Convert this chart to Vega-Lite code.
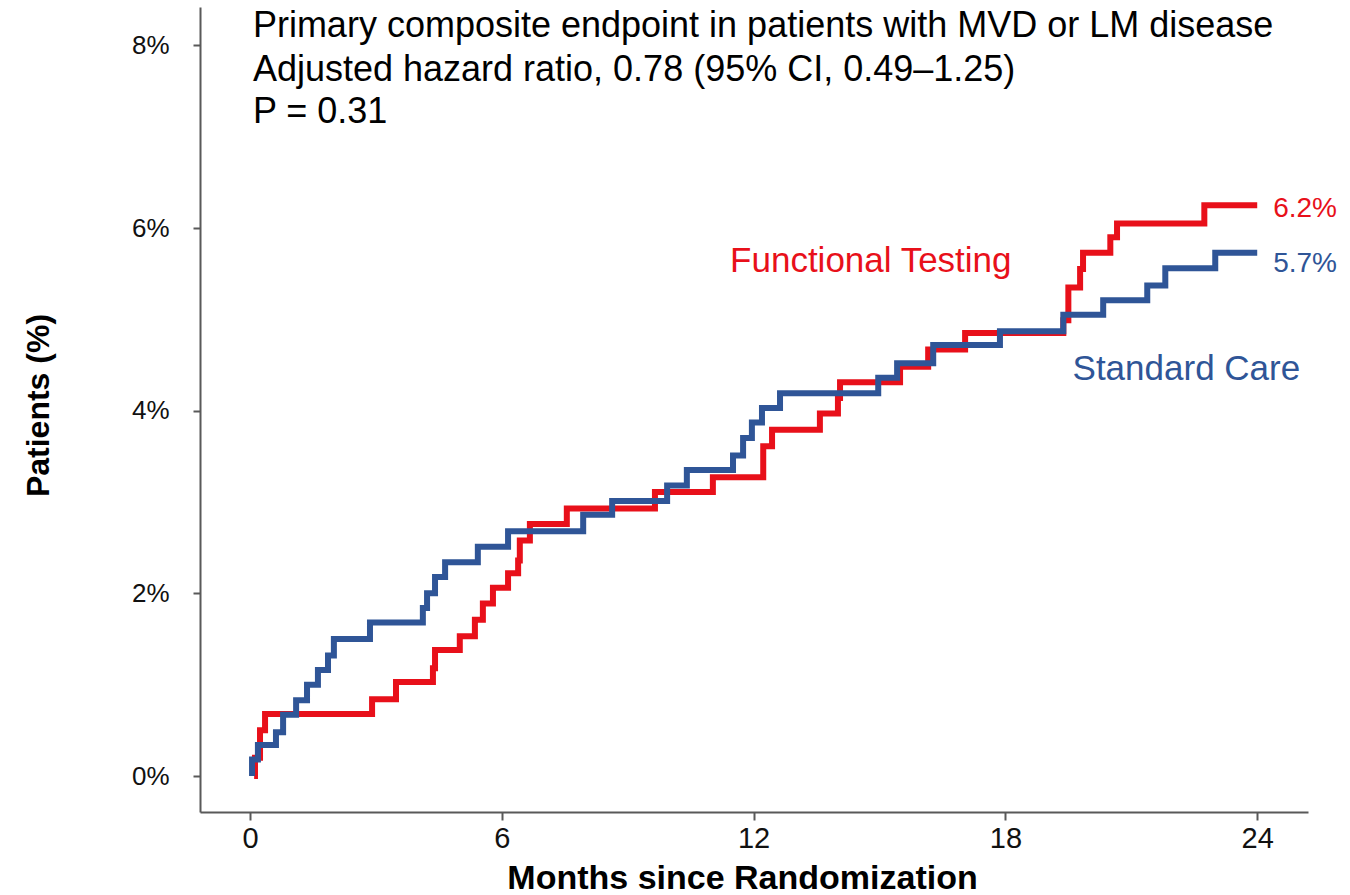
{
  "$schema": "https://vega.github.io/schema/vega-lite/v6.json",
  "autosize": "none",
  "width": 1108,
  "height": 805,
  "padding": {"left": 200, "top": 7, "right": 42, "bottom": 83},
  "background": "white",
  "config": {"view": {"stroke": null}},
  "datasets": {
    "curves": [
      {"i": 1, "t": 0.10, "v": 0, "g": "Functional Testing"},
      {"i": 2, "t": 0.12, "v": 0.20, "g": "Functional Testing"},
      {"i": 3, "t": 0.24, "v": 0.50, "g": "Functional Testing"},
      {"i": 4, "t": 0.36, "v": 0.68, "g": "Functional Testing"},
      {"i": 5, "t": 2.91, "v": 0.84, "g": "Functional Testing"},
      {"i": 6, "t": 3.48, "v": 1.03, "g": "Functional Testing"},
      {"i": 7, "t": 4.36, "v": 1.18, "g": "Functional Testing"},
      {"i": 8, "t": 4.41, "v": 1.38, "g": "Functional Testing"},
      {"i": 9, "t": 5.00, "v": 1.53, "g": "Functional Testing"},
      {"i": 10, "t": 5.36, "v": 1.71, "g": "Functional Testing"},
      {"i": 11, "t": 5.55, "v": 1.89, "g": "Functional Testing"},
      {"i": 12, "t": 5.79, "v": 2.06, "g": "Functional Testing"},
      {"i": 13, "t": 6.15, "v": 2.22, "g": "Functional Testing"},
      {"i": 14, "t": 6.39, "v": 2.36, "g": "Functional Testing"},
      {"i": 15, "t": 6.43, "v": 2.58, "g": "Functional Testing"},
      {"i": 16, "t": 6.67, "v": 2.76, "g": "Functional Testing"},
      {"i": 17, "t": 7.55, "v": 2.93, "g": "Functional Testing"},
      {"i": 18, "t": 9.65, "v": 3.11, "g": "Functional Testing"},
      {"i": 19, "t": 11.03, "v": 3.27, "g": "Functional Testing"},
      {"i": 20, "t": 12.23, "v": 3.61, "g": "Functional Testing"},
      {"i": 21, "t": 12.44, "v": 3.79, "g": "Functional Testing"},
      {"i": 22, "t": 13.58, "v": 3.97, "g": "Functional Testing"},
      {"i": 23, "t": 14.01, "v": 4.14, "g": "Functional Testing"},
      {"i": 24, "t": 14.06, "v": 4.31, "g": "Functional Testing"},
      {"i": 25, "t": 15.49, "v": 4.48, "g": "Functional Testing"},
      {"i": 26, "t": 16.16, "v": 4.67, "g": "Functional Testing"},
      {"i": 27, "t": 17.04, "v": 4.85, "g": "Functional Testing"},
      {"i": 28, "t": 19.38, "v": 4.99, "g": "Functional Testing"},
      {"i": 29, "t": 19.50, "v": 5.35, "g": "Functional Testing"},
      {"i": 30, "t": 19.78, "v": 5.55, "g": "Functional Testing"},
      {"i": 31, "t": 19.85, "v": 5.73, "g": "Functional Testing"},
      {"i": 32, "t": 20.50, "v": 5.90, "g": "Functional Testing"},
      {"i": 33, "t": 20.66, "v": 6.05, "g": "Functional Testing"},
      {"i": 34, "t": 22.74, "v": 6.25, "g": "Functional Testing"},
      {"i": 35, "t": 24.00, "v": 6.25, "g": "Functional Testing"},
      {"i": 101, "t": 0.05, "v": 0, "g": "Standard Care"},
      {"i": 102, "t": 0.05, "v": 0.18, "g": "Standard Care"},
      {"i": 103, "t": 0.19, "v": 0.34, "g": "Standard Care"},
      {"i": 104, "t": 0.62, "v": 0.48, "g": "Standard Care"},
      {"i": 105, "t": 0.79, "v": 0.67, "g": "Standard Care"},
      {"i": 106, "t": 1.10, "v": 0.83, "g": "Standard Care"},
      {"i": 107, "t": 1.36, "v": 1.00, "g": "Standard Care"},
      {"i": 108, "t": 1.62, "v": 1.16, "g": "Standard Care"},
      {"i": 109, "t": 1.86, "v": 1.32, "g": "Standard Care"},
      {"i": 110, "t": 2.00, "v": 1.50, "g": "Standard Care"},
      {"i": 111, "t": 2.86, "v": 1.68, "g": "Standard Care"},
      {"i": 112, "t": 4.12, "v": 1.84, "g": "Standard Care"},
      {"i": 113, "t": 4.22, "v": 2.00, "g": "Standard Care"},
      {"i": 114, "t": 4.41, "v": 2.18, "g": "Standard Care"},
      {"i": 115, "t": 4.65, "v": 2.34, "g": "Standard Care"},
      {"i": 116, "t": 5.43, "v": 2.51, "g": "Standard Care"},
      {"i": 117, "t": 6.15, "v": 2.68, "g": "Standard Care"},
      {"i": 118, "t": 7.94, "v": 2.86, "g": "Standard Care"},
      {"i": 119, "t": 8.63, "v": 3.01, "g": "Standard Care"},
      {"i": 120, "t": 9.94, "v": 3.18, "g": "Standard Care"},
      {"i": 121, "t": 10.41, "v": 3.35, "g": "Standard Care"},
      {"i": 122, "t": 11.51, "v": 3.51, "g": "Standard Care"},
      {"i": 123, "t": 11.75, "v": 3.70, "g": "Standard Care"},
      {"i": 124, "t": 11.96, "v": 3.87, "g": "Standard Care"},
      {"i": 125, "t": 12.20, "v": 4.03, "g": "Standard Care"},
      {"i": 126, "t": 12.63, "v": 4.19, "g": "Standard Care"},
      {"i": 127, "t": 14.97, "v": 4.36, "g": "Standard Care"},
      {"i": 128, "t": 15.42, "v": 4.52, "g": "Standard Care"},
      {"i": 129, "t": 16.28, "v": 4.72, "g": "Standard Care"},
      {"i": 130, "t": 17.87, "v": 4.87, "g": "Standard Care"},
      {"i": 131, "t": 19.38, "v": 5.05, "g": "Standard Care"},
      {"i": 132, "t": 20.33, "v": 5.21, "g": "Standard Care"},
      {"i": 133, "t": 21.38, "v": 5.37, "g": "Standard Care"},
      {"i": 134, "t": 21.81, "v": 5.56, "g": "Standard Care"},
      {"i": 135, "t": 23.00, "v": 5.73, "g": "Standard Care"},
      {"i": 136, "t": 24.00, "v": 5.73, "g": "Standard Care"}
    ],
    "header": [
      {"t": 0.07, "v": 8.09, "text": "Primary composite endpoint in patients with MVD or LM disease"},
      {"t": 0.07, "v": 7.61, "text": "Adjusted hazard ratio, 0.78 (95% CI, 0.49–1.25)"},
      {"t": 0.07, "v": 7.15, "text": "P = 0.31"}
    ],
    "names": [
      {"t": 11.44, "v": 5.52, "text": "Functional Testing", "g": "Functional Testing"},
      {"t": 19.60, "v": 4.34, "text": "Standard Care", "g": "Standard Care"}
    ],
    "ends": [
      {"t": 24.38, "v": 6.12, "text": "6.2%", "g": "Functional Testing"},
      {"t": 24.38, "v": 5.52, "text": "5.7%", "g": "Standard Care"}
    ]
  },
  "encoding": {
    "x": {
      "field": "t", "type": "quantitative",
      "scale": {"domain": [-1.19, 25.21], "nice": false, "zero": false},
      "axis": {
        "values": [0, 6, 12, 18, 24],
        "grid": false,
        "title": "Months since Randomization",
        "domainColor": "#595959", "domainWidth": 2,
        "tickColor": "#595959", "tickWidth": 2, "tickSize": 8,
        "labelFont": "Liberation Sans",
        "labelFontSize": 29, "labelColor": "#111111", "labelPadding": 4,
        "titleFont": "Liberation Sans",
        "titleFontSize": 34, "titleFontWeight": "bold", "titleColor": "#000000",
        "titleX": 542, "titleY": 76, "titleBaseline": "alphabetic", "titleAlign": "center"
      }
    },
    "y": {
      "field": "v", "type": "quantitative",
      "scale": {"domain": [-0.394, 8.42], "nice": false, "zero": false},
      "axis": {
        "values": [0, 2, 4, 6, 8],
        "grid": false,
        "labelExpr": "datum.value + '%'",
        "title": "Patients (%)",
        "domainColor": "#595959", "domainWidth": 2,
        "tickColor": "#595959", "tickWidth": 2, "tickSize": 7,
        "labelFont": "Liberation Sans", "labelFontSize": 26, "labelColor": "#111111", "labelPadding": 24,
        "titleFont": "Liberation Sans", "titleFontSize": 32, "titleFontWeight": "bold", "titleColor": "#000000",
        "titleX": -145, "titleY": 398, "titleAngle": 270, "titleBaseline": "bottom", "titleAlign": "center"
      }
    },
    "color": {
      "field": "g", "type": "nominal",
      "scale": {"domain": ["Functional Testing", "Standard Care"], "range": ["#E8101A", "#2F5597"]},
      "legend": null
    }
  },
  "layer": [
    {
      "data": {"name": "curves"},
      "mark": {"type": "line", "interpolate": "step-after", "strokeWidth": 6, "strokeCap": "butt", "strokeJoin": "miter"},
      "encoding": {"order": {"field": "i", "type": "quantitative"}}
    },
    {
      "data": {"name": "header"},
      "mark": {"type": "text", "align": "left", "baseline": "alphabetic", "font": "Liberation Sans", "fontSize": 36, "color": "#000000"},
      "encoding": {"text": {"field": "text"}, "color": {"value": "#000000"}}
    },
    {
      "data": {"name": "names"},
      "mark": {"type": "text", "align": "left", "baseline": "alphabetic", "font": "Liberation Sans", "fontSize": 35},
      "encoding": {"text": {"field": "text"}}
    },
    {
      "data": {"name": "ends"},
      "mark": {"type": "text", "align": "left", "baseline": "alphabetic", "font": "Liberation Sans", "fontSize": 28},
      "encoding": {"text": {"field": "text"}}
    }
  ]
}
